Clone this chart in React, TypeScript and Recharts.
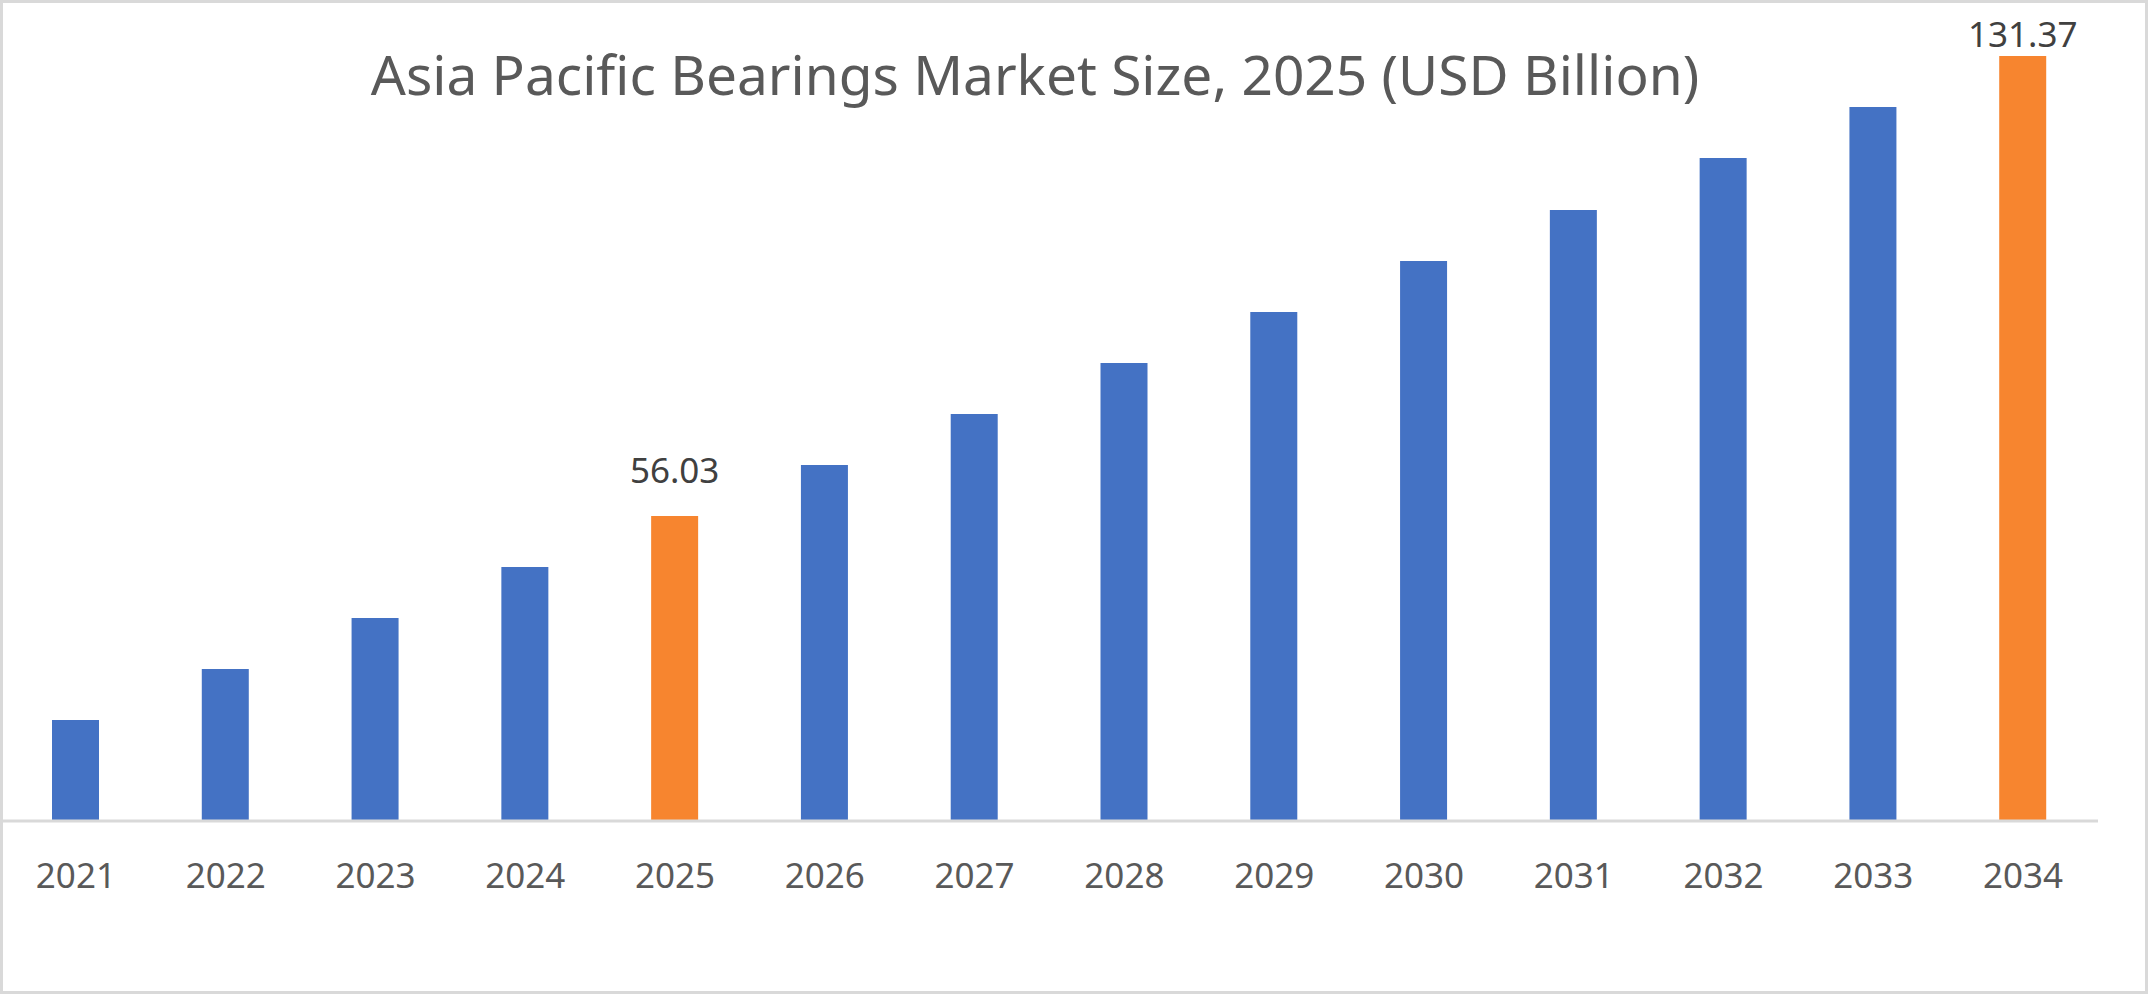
import React from 'react';
import { BarChart, Bar, XAxis, YAxis, Cell, LabelList } from 'recharts';

const years = ['2021', '2022', '2023', '2024', '2025', '2026', '2027', '2028', '2029', '2030', '2031', '2032', '2033', '2034'];
const marketSize = [22.62, 30.97, 39.33, 47.68, 56.03, 64.38, 72.74, 81.09, 89.44, 97.79, 106.15, 114.66, 123.01, 131.37];
const highlightedYears = ['2025', '2034'];
const axisDomain = [6.08, 131.37];

const TITLE = 'Asia Pacific Bearings Market Size, 2025 (USD Billion)';
const BLUE = '#4472C4';
const ORANGE = '#F7852F';
const FONT = "'Noto Sans', sans-serif";

const data = years.map((year, i) => ({ year, value: marketSize[i] }));

const W = 2148;
const H = 994;

const renderLabel = (props: any) => {
  const { x, y, width, value, index } = props;
  if (!highlightedYears.includes(years[index])) return null;
  const cx = Number(x) + Number(width) / 2;
  const baseline = Math.max(Number(y) - 33, 47);
  return (
    <text x={cx} y={baseline} textAnchor="middle" fill="#404040" fontSize={35} fontFamily={FONT}>
      {Number(value).toFixed(2)}
    </text>
  );
};

export default function App() {
  return (
    <div style={{ position: 'absolute', left: 0, top: 0, width: W, height: H, background: '#ffffff', overflow: 'hidden' }}>
      <BarChart width={W} height={H} data={data} margin={{ top: 56, right: 50, left: 1, bottom: 113 }}>
        <XAxis
          dataKey="year"
          height={60}
          tickLine={false}
          tickSize={0}
          tickMargin={42}
          axisLine={{ stroke: '#D9D9D9', strokeWidth: 3 }}
          tick={{ fill: '#595959', fontSize: 35, fontFamily: FONT }}
          interval={0}
        />
        <YAxis hide domain={axisDomain} allowDataOverflow type="number" />
        <Bar dataKey="value" barSize={47} isAnimationActive={false}>
          {data.map((d) => (
            <Cell key={d.year} fill={highlightedYears.includes(d.year) ? ORANGE : BLUE} />
          ))}
          <LabelList dataKey="value" content={renderLabel} />
        </Bar>
      </BarChart>
      <svg width={W} height={H} style={{ position: 'absolute', left: 0, top: 0, pointerEvents: 'none' }}>
        <text x={1035} y={95} textAnchor="middle" fill="#595959" fontSize={55} fontFamily={FONT}>
          {TITLE}
        </text>
      </svg>
      <div
        style={{
          position: 'absolute',
          left: 0,
          top: 0,
          width: W,
          height: H,
          boxSizing: 'border-box',
          border: '3px solid #D9D9D9',
          pointerEvents: 'none',
        }}
      />
    </div>
  );
}
